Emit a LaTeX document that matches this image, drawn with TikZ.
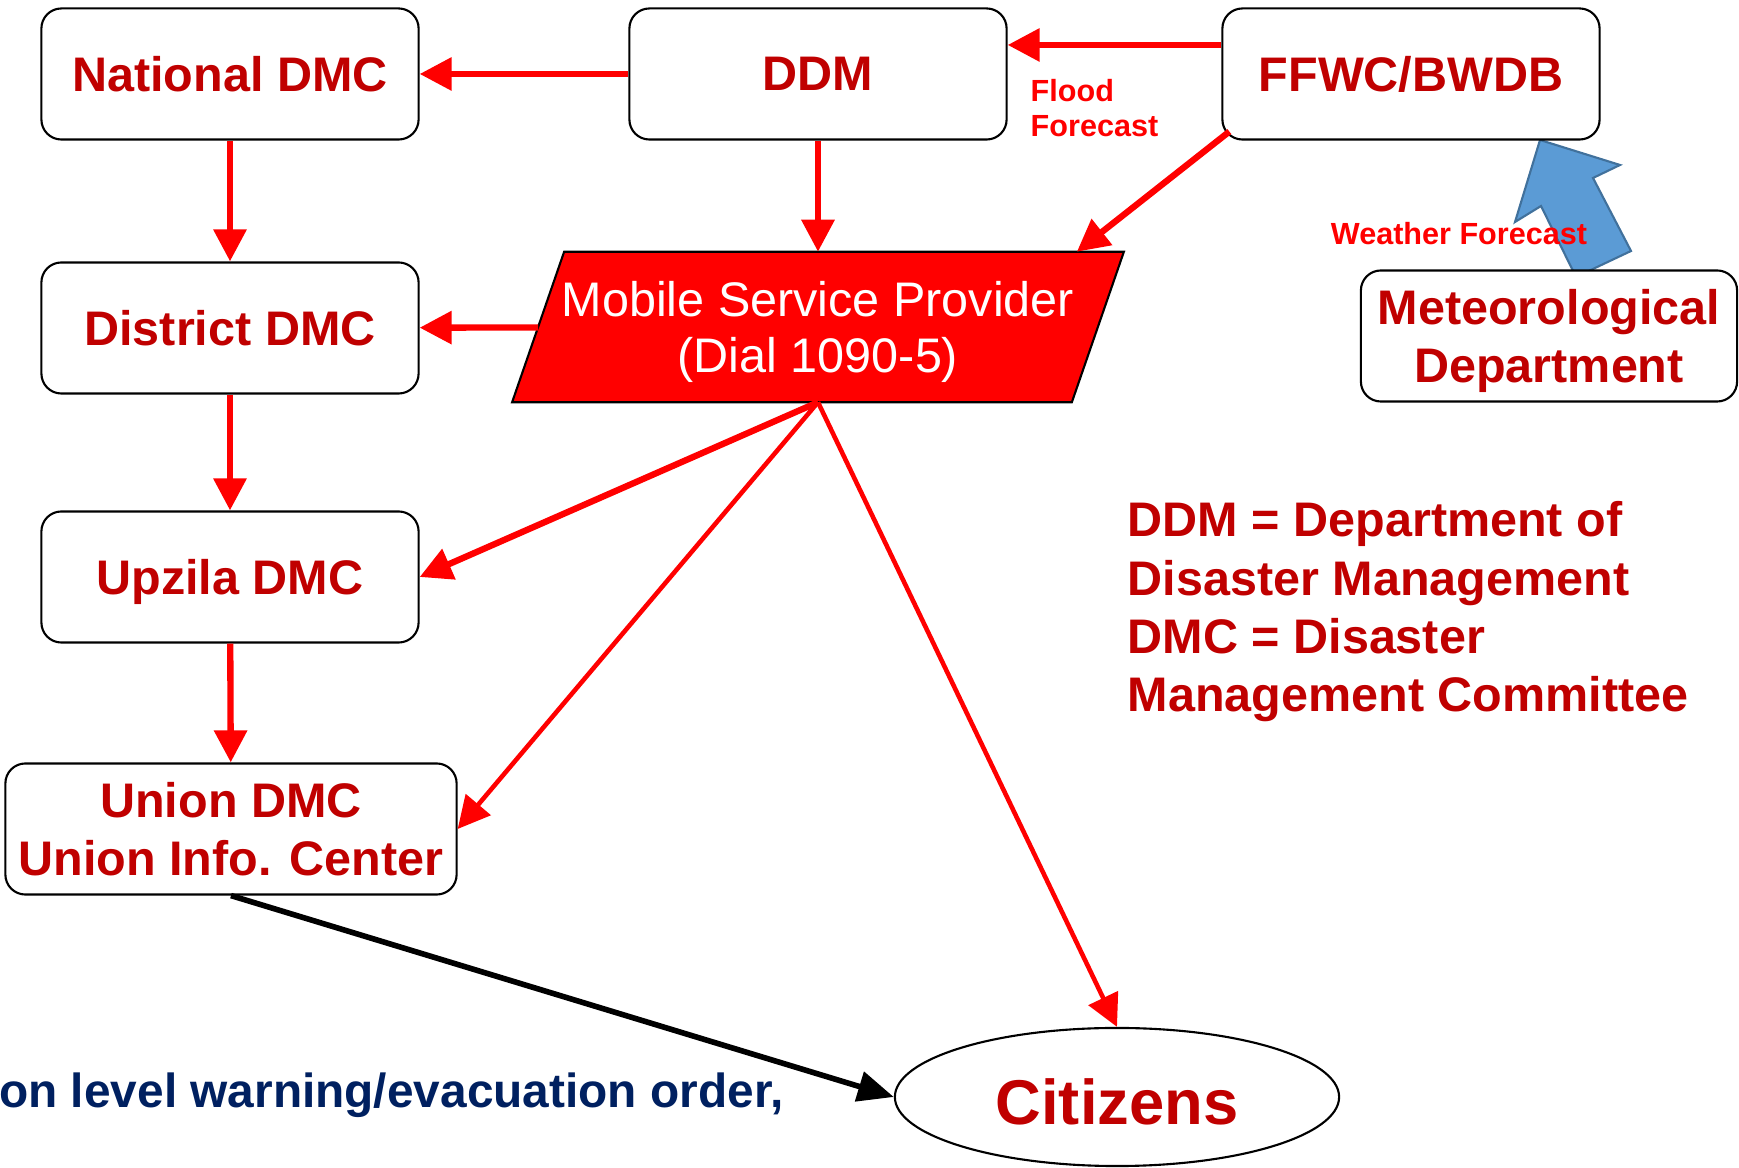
\documentclass[tikz,border=0pt]{standalone}
\usepackage{fontspec}
\setmainfont{Liberation Sans}
\usepackage{xcolor}
\usetikzlibrary{positioning, arrows.meta, shapes.geometric, calc, backgrounds}
\definecolor{dmcRed}{RGB}{192, 0, 0}
\definecolor{lineRed}{RGB}{255, 0, 0}
\definecolor{navyBlue}{RGB}{0, 32, 96}
\definecolor{skyBlue}{RGB}{91, 155, 213}
\definecolor{skyEdge}{RGB}{65, 113, 156}

\begin{document}
\begin{tikzpicture}[
        x=0.01cm, y=-0.01cm,
        font=\fontsize{13.8}{16.6}\selectfont\bfseries,
        b/.style={rectangle, rounded corners=0.2cm, draw=black, line width=0.6pt, fill=white, text=dmcRed,
            align=center, inner sep=2pt, minimum width=3.77cm, minimum height=1.31cm},
        arr/.style={-{Triangle[length=0.32cm, width=0.32cm]}, line width=1.8pt, lineRed},
        arrthin/.style={arr, line width=1.3pt},
        lbl/.style={font=\fontsize{8.7}{10}\selectfont\bfseries, text=lineRed, inner sep=0pt}
    ]
    \useasboundingbox (0,0) rectangle (1739,1168);
    % block arrow from the met office up to FFWC
    \draw[fill=skyBlue, draw=skyEdge, line width=0.6pt]
        (1540,140) -- (1620,165) -- (1593,178) -- (1631,251) -- (1576,277) -- (1541,206) -- (1515,222) -- cycle;

    \node[b] (natl) at (230,74) {National DMC};
    \node[b] (ddm) at (818,74) {DDM};
    \node[b] (ffwc) at (1411,74) {FFWC/BWDB};
    \node[b] (dist) at (230,328) {District DMC};
    \node[b, text depth=0pt] (upz) at (230,577) {Upzila DMC};
    \node[b, minimum width=4.51cm] (union) at (231,829) {Union DMC\\Union Info. Center};
    \node[b, minimum width=3.76cm, text depth=0pt] (meteo) at (1549,336) {Meteorological\\Department};
    \node[text=white, font=\fontsize{13.8}{16}\selectfont\mdseries, align=center, text depth=0pt,
        minimum width=5.58cm, minimum height=1.49cm, inner sep=0pt] (msp) at (818,327)
        {Mobile Service Provider\\(Dial 1090-5)};
    % slanted box behind the provider text
    \begin{scope}[on background layer]
        \draw[fill=lineRed, draw=black, line width=0.6pt]
            ([xshift=-0.26cm]msp.south west) -- ([xshift=-0.26cm]msp.south east)
            -- ([xshift=0.26cm]msp.north east) -- ([xshift=0.26cm]msp.north west) -- cycle;
    \end{scope}
    \node[ellipse, draw=black, line width=0.6pt, minimum width=4.44cm, minimum height=1.38cm, text height=0.56cm,
        text=dmcRed, font=\fontsize{18}{20}\selectfont\bfseries] (cit) at (1117,1097) {Citizens};

    \node[lbl, anchor=west, align=left] (floodlbl) at (1030,108) {Flood\\Forecast};
    \node[lbl] (wxlbl) at (1459,234) {Weather Forecast};
    \node[anchor=north west, align=left, text=dmcRed, inner sep=0pt] (legend) at (1127,501)
        {DDM = Department of\\Disaster Management\\DMC = Disaster\\Management Committee};
    \node[anchor=east, text=navyBlue, inner sep=0pt, font=\fontsize{13.6}{16}\selectfont\bfseries] (warn)
        at (784,1095) {on level warning/evacuation order,};

    \draw[arr] (ddm) -- (natl);
    \draw[arr] ([yshift=0.29cm]ffwc.west) -- ([yshift=0.29cm]ddm.east);
    \draw[arr] (natl) -- (dist);
    \draw[arr] (dist) -- (upz);
    \draw[arr] (upz) -- (union);
    \draw[arr] (ddm) -- (msp);
    \draw[arr] ([shift={(8,-9)}]ffwc.south west) -- ([xshift=-0.21cm]msp.north east);
    \draw[arr] (msp) -- (dist);
    \draw[arr] (msp.south) -- (upz.east);
    \draw[arrthin] (msp.south) -- (union.east);
    \draw[arrthin] (msp.south) -- (cit.north);
    \draw[-{Triangle[length=0.36cm, width=0.3cm]}, line width=1.6pt, black] (union.south) -- (cit.west);
\end{tikzpicture}
\end{document}
